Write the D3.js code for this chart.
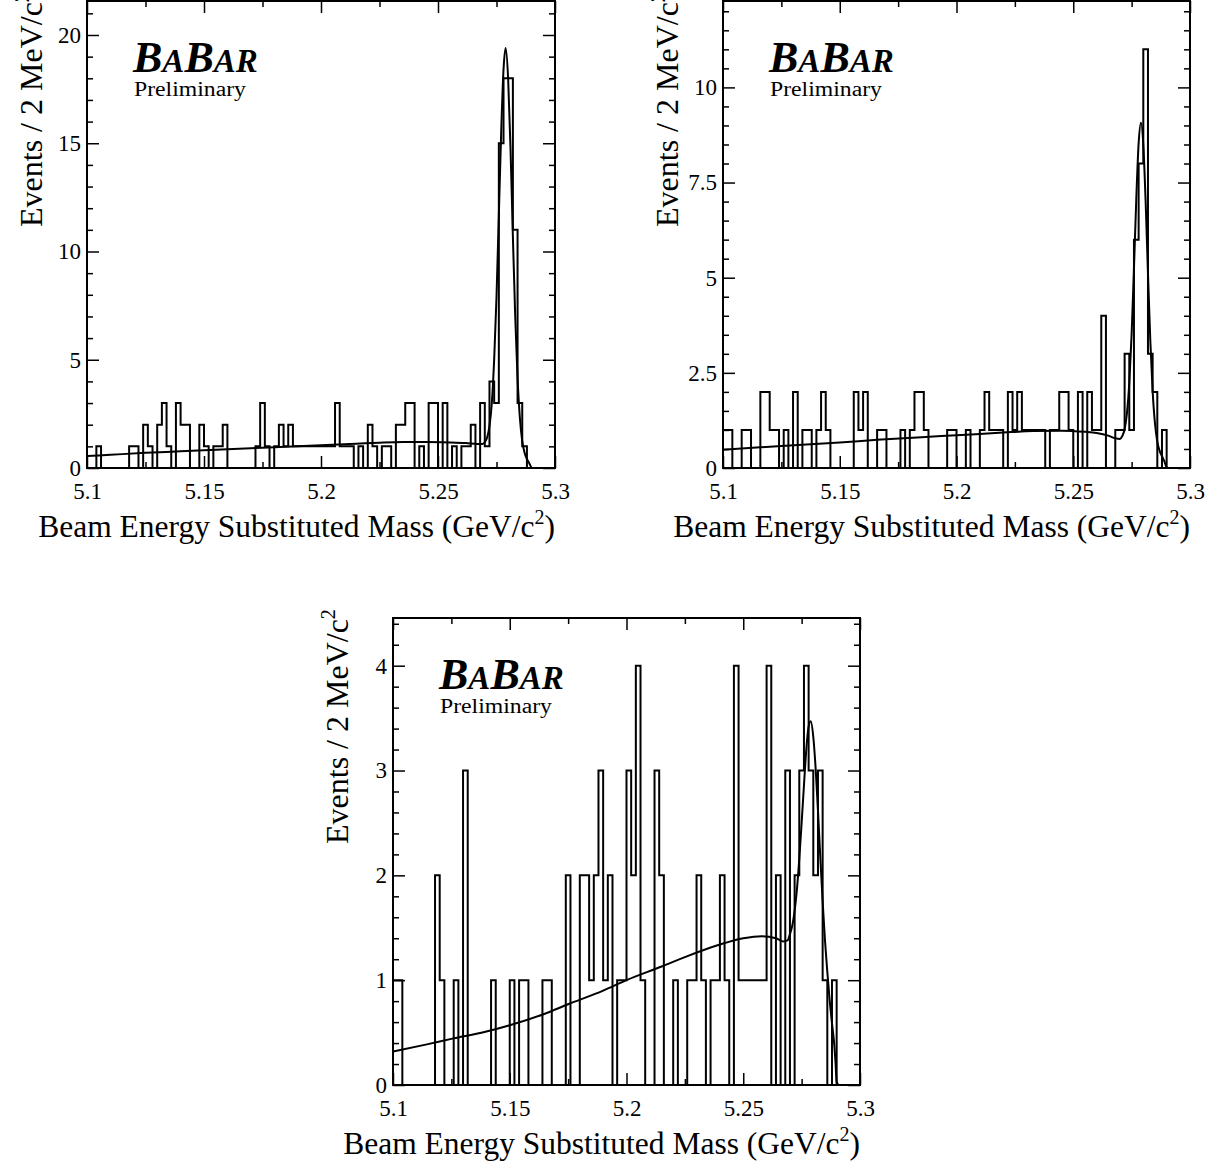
<!DOCTYPE html>
<html>
<head>
<meta charset="utf-8">
<script src="https://cdn.jsdelivr.net/npm/d3@7"></script>
<style>
  body { margin: 0; background: #fff; }
  svg text { font-family: "Liberation Serif", "Times New Roman", serif; fill: #000; }
</style>
</head>
<body>
<svg id="chart" width="1224" height="1166"></svg>
<script>
// ---------------- DATA ----------------
const massRange = [5.1, 5.3];
const binWidth = 0.002;

// Events per 2 MeV bin, 100 bins from 5.100 to 5.300 GeV/c^2
const hist1 = [
  0,0,1,0,0,0,0,0,0,1,
  1,0,2,1,0,2,3,1,0,3,
  2,2,0,0,2,1,0,1,1,2,
  0,0,0,0,0,0,1,3,1,0,
  1,2,1,2,1,1,1,1,1,1,
  1,1,1,3,1,1,1,0,1,0,
  2,1,0,1,1,0,2,2,3,3,
  0,1,0,3,3,0,3,0,1,0,
  1,1,2,0,3,1,4,3,15,18,
  18,11,3,1,0,0,0,0,0,0
];
const hist2 = [
  1,1,0,0,1,1,0,0,2,2,
  1,1,0,1,0,2,0,1,1,0,
  1,2,1,0,0,0,0,0,2,1,
  2,0,0,1,1,0,0,0,1,0,
  1,2,2,1,0,0,0,0,1,1,
  0,0,1,0,0,1,2,1,1,1,
  0,2,1,2,1,1,1,1,1,0,
  1,1,2,2,1,0,2,0,2,1,
  1,4,0,0,1,1,3,1,6,8,
  11,3,2,0,1,0,0,0,0,0
];
const hist3 = [
  1,1,0,0,0,0,0,0,0,2,
  1,0,0,1,0,3,0,0,0,0,
  0,1,0,0,0,1,0,1,1,0,
  0,0,1,1,0,0,0,2,0,0,
  2,2,1,2,3,1,2,0,1,1,
  3,2,4,1,0,0,3,2,0,0,
  1,0,0,1,1,2,1,0,1,1,
  2,1,0,4,1,1,1,1,1,1,
  4,0,2,0,3,0,2,3,4,3,
  2,3,1,0,1,0,0,0,0,0
];

// Fit curves: [mass, events]
const fit1 = [
  [5.100,0.55],[5.110,0.61],[5.125,0.70],[5.140,0.77],[5.150,0.82],[5.165,0.89],
  [5.175,0.94],[5.190,1.01],[5.200,1.05],[5.215,1.12],[5.225,1.17],[5.235,1.20],
  [5.245,1.20],[5.255,1.18],[5.262,1.15],[5.267,1.11],[5.269,1.11],[5.270,1.20],
  [5.271,1.41],[5.272,1.94],[5.273,3.0],[5.274,5.0],[5.275,7.9],[5.276,11.7],
  [5.277,15.5],[5.278,18.4],[5.2789,19.4],[5.280,17.9],[5.281,14.7],[5.282,10.7],
  [5.283,7.0],[5.284,4.15],[5.285,2.3],[5.286,1.24],[5.287,0.7],[5.288,0.42],
  [5.289,0.22],[5.290,0.02],[5.291,0],[5.300,0]
];
const fit2 = [
  [5.100,0.48],[5.125,0.58],[5.150,0.67],[5.166,0.74],[5.185,0.81],[5.200,0.86],
  [5.220,0.93],[5.233,0.97],[5.245,0.98],[5.255,0.95],[5.260,0.92],[5.265,0.85],
  [5.268,0.78],[5.270,0.76],[5.271,0.84],[5.272,1.02],[5.273,1.44],[5.274,2.23],
  [5.275,3.52],[5.276,5.24],[5.277,7.08],[5.278,8.53],[5.279,9.07],[5.280,8.49],
  [5.281,7.0],[5.282,5.12],[5.283,3.35],[5.284,2.02],[5.285,1.17],[5.286,0.69],
  [5.287,0.45],[5.288,0.31],[5.289,0.18],[5.290,0.02],[5.291,0],[5.300,0]
];
const fit3 = [
  [5.100,0.32],[5.115,0.39],[5.125,0.44],[5.140,0.51],[5.150,0.57],[5.165,0.68],
  [5.175,0.77],[5.190,0.90],[5.200,1.00],[5.215,1.13],[5.225,1.22],[5.240,1.34],
  [5.250,1.40],[5.258,1.42],[5.264,1.40],[5.267,1.37],[5.269,1.38],[5.270,1.44],
  [5.271,1.52],[5.272,1.66],[5.273,1.87],[5.274,2.16],[5.275,2.50],[5.276,2.86],
  [5.277,3.20],[5.278,3.42],[5.2789,3.47],[5.280,3.32],[5.281,3.02],[5.282,2.62],
  [5.283,2.17],[5.284,1.75],[5.285,1.38],[5.286,1.08],[5.287,0.81],[5.288,0.59],
  [5.289,0.38],[5.2895,0.22],[5.290,0.03],[5.291,0],[5.300,0]
];

// Tick values and labels
const xMajorTicks = [5.1, 5.15, 5.2, 5.25, 5.3];
const xMajorLabels = ["5.1", "5.15", "5.2", "5.25", "5.3"];
const xMinorTicks = [5.125, 5.175, 5.225, 5.275];

const yTicks1 = [0, 5, 10, 15, 20];
const yLabels1 = ["0", "5", "10", "15", "20"];
const yTicks2 = [0, 2.5, 5, 7.5, 10];
const yLabels2 = ["0", "2.5", "5", "7.5", "10"];
const yTicks3 = [0, 1, 2, 3, 4];
const yLabels3 = ["0", "1", "2", "3", "4"];

const xTitle = "Beam Energy Substituted Mass (GeV/c";
const yTitle = "Events / 2 MeV/c";
const logoText = ["B", "A", "B", "A", "R"];
const prelimText = "Preliminary";

// ---------------- LAYOUT ----------------
const panels = [
  { l: 87,  r: 555,  t: 1,   b: 468,  ymax: 21.57, hist: hist1, fit: fit1, yTicks: yTicks1, yLabels: yLabels1, yMinorStep: 1 },
  { l: 723, r: 1190, t: 1,   b: 468,  ymax: 12.27, hist: hist2, fit: fit2, yTicks: yTicks2, yLabels: yLabels2, yMinorStep: 0.5 },
  { l: 393, r: 860,  t: 618, b: 1085, ymax: 4.455, hist: hist3, fit: fit3, yTicks: yTicks3, yLabels: yLabels3, yMinorStep: 0.2 }
];

const svg = d3.select("#chart");
const FONT_TICK = 23;
const FONT_TITLE = 31.5;

function styleAxis(sel, withLabels) {
  sel.select(".domain").remove();
  sel.selectAll(".tick line").attr("stroke", "#000").attr("stroke-width", 1.5);
  sel.attr("font-family", null).attr("font-size", null);
  if (withLabels) {
    sel.selectAll(".tick text").attr("font-size", FONT_TICK);
  } else {
    sel.selectAll(".tick text").remove();
  }
}

panels.forEach(p => {
  const g = svg.append("g");
  const x = d3.scaleLinear().domain(massRange).range([p.l, p.r]);
  const y = d3.scaleLinear().domain([0, p.ymax]).range([p.b, p.t]);

  const clipId = "clip" + p.l;
  svg.append("clipPath").attr("id", clipId)
    .append("rect").attr("x", p.l).attr("y", p.t).attr("width", p.r - p.l).attr("height", p.b - p.t);

  // histogram outline
  const pts = [[massRange[0], 0]]
    .concat(p.hist.map((v, i) => [massRange[0] + i * binWidth, v]))
    .concat([[massRange[1], p.hist[p.hist.length - 1]], [massRange[1], 0]]);
  const histLine = d3.line().x(d => x(d[0])).y(d => y(d[1])).curve(d3.curveStepAfter);
  g.append("path").attr("d", histLine(pts))
    .attr("fill", "none").attr("stroke", "#000").attr("stroke-width", 2)
    .attr("clip-path", `url(#${clipId})`);

  // fit curve
  const fitLine = d3.line().x(d => x(d[0])).y(d => y(d[1])).curve(d3.curveMonotoneX);
  g.append("path").attr("d", fitLine(p.fit))
    .attr("fill", "none").attr("stroke", "#000").attr("stroke-width", 2)
    .attr("clip-path", `url(#${clipId})`);

  // axes (ticks inside on all four sides)
  const yMinor = d3.range(0, p.ymax + 1e-9, p.yMinorStep).filter(v => !p.yTicks.some(t => Math.abs(t - v) < 1e-6));

  g.append("g").attr("transform", `translate(0,${p.b})`)
    .call(d3.axisBottom(x).tickValues(xMajorTicks).tickFormat((d, i) => xMajorLabels[i]).tickSize(-12).tickPadding(15))
    .call(s => styleAxis(s, true));
  g.append("g").attr("transform", `translate(0,${p.b})`)
    .call(d3.axisBottom(x).tickValues(xMinorTicks).tickSize(-6))
    .call(s => styleAxis(s, false));
  g.append("g").attr("transform", `translate(0,${p.t})`)
    .call(d3.axisTop(x).tickValues(xMajorTicks).tickSize(-12))
    .call(s => styleAxis(s, false));
  g.append("g").attr("transform", `translate(0,${p.t})`)
    .call(d3.axisTop(x).tickValues(xMinorTicks).tickSize(-6))
    .call(s => styleAxis(s, false));

  g.append("g").attr("transform", `translate(${p.l},0)`)
    .call(d3.axisLeft(y).tickValues(p.yTicks).tickFormat((d, i) => p.yLabels[i]).tickSize(-12).tickPadding(6))
    .call(s => styleAxis(s, true));
  g.append("g").attr("transform", `translate(${p.l},0)`)
    .call(d3.axisLeft(y).tickValues(yMinor).tickSize(-6))
    .call(s => styleAxis(s, false));
  g.append("g").attr("transform", `translate(${p.r},0)`)
    .call(d3.axisRight(y).tickValues(p.yTicks).tickSize(-12))
    .call(s => styleAxis(s, false));
  g.append("g").attr("transform", `translate(${p.r},0)`)
    .call(d3.axisRight(y).tickValues(yMinor).tickSize(-6))
    .call(s => styleAxis(s, false));

  // frame
  g.append("rect").attr("x", p.l).attr("y", p.t).attr("width", p.r - p.l).attr("height", p.b - p.t)
    .attr("fill", "none").attr("stroke", "#000").attr("stroke-width", 2);

  // x title
  const xt = g.append("text").attr("x", p.r).attr("y", p.b + 69)
    .attr("text-anchor", "end").attr("font-size", FONT_TITLE);
  xt.append("tspan").text(xTitle);
  xt.append("tspan").attr("font-size", 20).attr("dy", -13).text("2");
  xt.append("tspan").attr("dy", 13).text(")");

  // y title (starts near the lower part of the frame, runs upward past the top)
  const yt = g.append("text").attr("transform", `translate(${p.l - 45},${p.t + 226}) rotate(-90)`)
    .attr("text-anchor", "start").attr("font-size", 32);
  yt.append("tspan").text(yTitle);
  yt.append("tspan").attr("font-size", 20).attr("dy", -13).text("2");

  // BaBar logo
  const logo = g.append("text").attr("x", p.l + 46).attr("y", p.t + 71)
    .attr("font-weight", "bold").attr("font-style", "italic");
  logoText.forEach((ch, i) => {
    logo.append("tspan").attr("font-size", (i === 0 || i === 2) ? 44 : 33).text(ch);
  });
  g.append("text").attr("x", p.l + 47).attr("y", p.t + 95)
    .attr("font-size", 20).attr("textLength", 112).attr("lengthAdjust", "spacingAndGlyphs")
    .text(prelimText);
});
</script>
</body>
</html>
